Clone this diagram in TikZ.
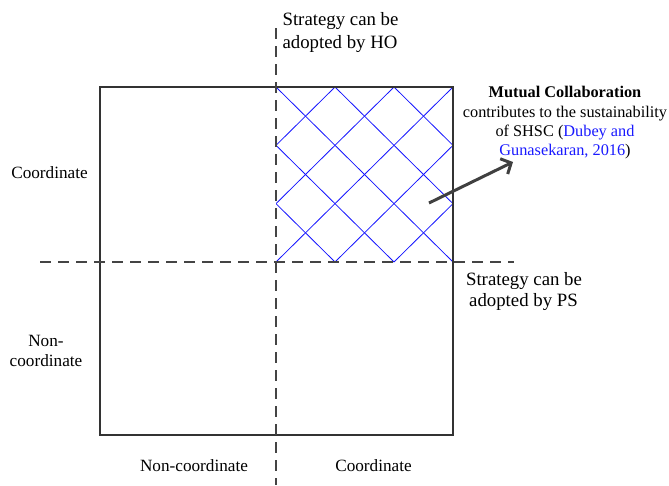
\documentclass[tikz,border=0pt]{standalone}
\usepackage{fontspec}
\setmainfont{Liberation Serif}
\usetikzlibrary{arrows.meta}
\definecolor{framec}{HTML}{333333}
\definecolor{dashc}{HTML}{444444}
\definecolor{arrowc}{HTML}{404040}
\definecolor{citeblue}{RGB}{25,25,255}
\definecolor{hatchblue}{RGB}{20,20,255}
\begin{document}
\begin{tikzpicture}[x=1pt,y=-1pt,
  lbl/.style={font=\fontsize{16.3}{19.5}\selectfont, inner sep=0pt, anchor=base},
  axlbl/.style={lbl, font=\fontsize{17.2}{20}\selectfont},
  stratlbl/.style={lbl, font=\fontsize{18.8}{22}\selectfont},
  dashline/.style={draw=dashc, line width=1.3pt, dash pattern=on 11pt off 7pt},
  framebox/.style={draw=framec, line width=1.4pt},
  hatchline/.style={draw=hatchblue, line width=0.8pt},
  pointer/.style={draw=arrowc, line width=3pt, -{Straight Barb[length=8pt,width=17pt,line width=3pt]}}]
\useasboundingbox (0,0) rectangle (669,485);

% hatching of the top-right quadrant
\begin{scope}
  \clip (276,87) rectangle (453,262);
  \begin{scope}[shift={(276,87)}, x=59pt, y=-58.33pt]
    \foreach \k in {-3,...,3} {\draw[hatchline] (\k,0) -- (\k+3,3);}
    \foreach \k in {0,...,6} {\draw[hatchline] (\k,0) -- (\k-3,3);}
  \end{scope}
\end{scope}

% frame
\draw[framebox] (100,87) rectangle (453,435);

% dashed axes
\coordinate (vtop) at (276,28);
\coordinate (vbot) at (276,485);
\coordinate (hleft) at (40,262);
\coordinate (hright) at (514,262);
\draw[dashline] (vtop) -- (vbot);
\draw[dashline] (hleft) -- (hright);

% texts
\node[stratlbl] (ho1) at (340.5,25) {Strategy can be};
\node[stratlbl] (ho2) at (340,48) {adopted by HO};
\node[stratlbl] (ps1) at (524,285) {Strategy can be};
\node[stratlbl] (ps2) at (523.5,306) {adopted by PS};

\node[lbl] (m1) at (565,97) {\textbf{Mutual Collaboration}};
\node[lbl] (m2) at (565,117) {contributes to the sustainability};
\node[lbl] (m3) at (565,136) {of SHSC (\textcolor{citeblue}{Dubey and}};
\node[lbl] (m4) at (565,155) {\textcolor{citeblue}{Gunasekaran, 2016})};

\node[axlbl] (yc) at (49.5,178) {Coordinate};
\node[axlbl] (yn1) at (46,346) {Non-};
\node[axlbl] (yn2) at (46,366) {coordinate};
\node[axlbl] (xn) at (194,471) {Non-coordinate};
\node[axlbl] (xc) at (373.5,471) {Coordinate};

% arrow
\coordinate (atail) at (429,203);
\coordinate (ahead) at (513,162);
\draw[pointer] (atail) -- (ahead);
\end{tikzpicture}
\end{document}
